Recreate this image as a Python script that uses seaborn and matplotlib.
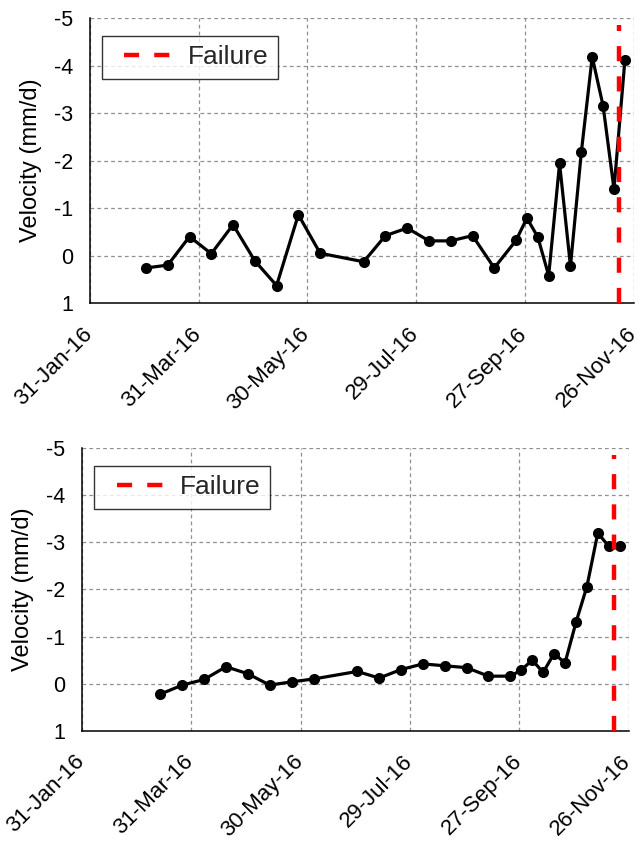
import matplotlib
matplotlib.use("Agg")
import matplotlib.pyplot as plt
import matplotlib.dates as mdates
import matplotlib.transforms as mtransforms
from matplotlib.legend_handler import HandlerLine2D
import numpy as np
import pandas as pd
import seaborn as sns

# ---------------- data ----------------
dates_top = ["2016-03-02", "2016-03-14", "2016-03-26", "2016-04-07", "2016-04-19",
             "2016-05-01", "2016-05-13", "2016-05-25", "2016-06-06", "2016-06-30",
             "2016-07-12", "2016-07-24", "2016-08-05", "2016-08-17", "2016-08-29",
             "2016-09-10", "2016-09-22", "2016-09-28", "2016-10-04", "2016-10-10",
             "2016-10-16", "2016-10-22", "2016-10-28", "2016-11-03", "2016-11-09",
             "2016-11-15", "2016-11-21"]
vel_top = [0.26, 0.20, -0.40, -0.04, -0.65, 0.11, 0.63, -0.86, -0.05, 0.13,
           -0.42, -0.58, -0.31, -0.31, -0.42, 0.26, -0.32, -0.79, -0.39, 0.42,
           -1.94, 0.22, -2.18, -4.18, -3.15, -1.40, -4.11]

dates_bottom = ["2016-03-14", "2016-03-26", "2016-04-07", "2016-04-19",
                "2016-05-01", "2016-05-13", "2016-05-25", "2016-06-06", "2016-06-30",
                "2016-07-12", "2016-07-24", "2016-08-05", "2016-08-17", "2016-08-29",
                "2016-09-10", "2016-09-22", "2016-09-28", "2016-10-04", "2016-10-10",
                "2016-10-16", "2016-10-22", "2016-10-28", "2016-11-03", "2016-11-09",
                "2016-11-15", "2016-11-21"]
vel_bottom = [0.22, 0.03, -0.09, -0.36, -0.21, 0.03, -0.04, -0.10, -0.26,
              -0.12, -0.30, -0.42, -0.38, -0.34, -0.16, -0.16, -0.29, -0.50, -0.24,
              -0.64, -0.44, -1.30, -2.06, -3.20, -2.91, -2.92]

failure_date = "2016-11-18"
failure_top_value = -4.85
x_ticks = ["2016-01-31", "2016-03-31", "2016-05-30", "2016-07-29", "2016-09-27", "2016-11-26"]
y_ticks = [1, 0, -1, -2, -3, -4, -5]
y_label = "Velocity (mm/d)"
legend_label = "Failure"

# ---------------- style ----------------
sns.set_style("white")
plt.rcParams["font.family"] = ["Liberation Sans", "DejaVu Sans"]
plt.rcParams["axes.unicode_minus"] = False

fig = plt.figure(figsize=(6.41, 8.42), dpi=100)
ax_top = fig.add_axes([0.140, 0.640, 0.849, 0.3386])
ax_bot = fig.add_axes([0.128, 0.132, 0.853, 0.336])

panels = [
    (ax_top, dates_top, vel_top),
    (ax_bot, dates_bottom, vel_bottom),
]


def shifted_handle(legline, orig):
    legline.update_from(orig)
    x = np.asarray(legline.get_xdata(), float)
    x0, x1 = x[0], x[-1]
    legline.set_xdata(np.linspace(x0 + (x1 - x0) * 0.22, x1, len(x)))


label_shift = mtransforms.ScaledTranslation(0.03, -0.01, fig.dpi_scale_trans)

xt = pd.to_datetime(x_ticks)
for ax, d, v in panels:
    df = pd.DataFrame({"date": pd.to_datetime(d), "vel": v})
    sns.lineplot(data=df, x="date", y="vel", ax=ax, color="black", linewidth=2.3,
                 marker="o", markersize=8, markeredgecolor="black",
                 markeredgewidth=0, estimator=None, legend=False, zorder=3)
    fd = pd.to_datetime(failure_date)
    ax.plot([fd, fd], [1, failure_top_value], color="#ff0000", lw=3.2,
            ls=(0, (3.4, 3.4)), label=legend_label, zorder=4)

    ax.set_xlim(xt[0], xt[-1])
    ax.set_ylim(1, -5)
    ax.set_xticks(xt)
    ax.xaxis.set_major_formatter(mdates.DateFormatter("%d-%b-%y"))
    ax.set_yticks(y_ticks)
    ax.set_yticklabels([str(t) for t in y_ticks])
    ax.grid(True, color="#909090", lw=0.9, ls=(0, (3, 2.5)))
    ax.set_axisbelow(True)
    for s in ["top", "right"]:
        ax.spines[s].set_visible(False)
    for s in ["left", "bottom"]:
        ax.spines[s].set_color("black")
        ax.spines[s].set_linewidth(1.1)
    ax.tick_params(axis="both", direction="out", length=5, width=1.1,
                   color="black", labelcolor="black")
    ax.tick_params(axis="y", pad=7, labelsize=15.5)
    ax.tick_params(axis="x", pad=17, labelsize=16)
    for tick in ax.xaxis.get_major_ticks():
        lab = tick.label1
        lab.set_rotation(45)
        lab.set_ha("right")
        lab.set_va("baseline")
        lab.set_rotation_mode("anchor")
        lab.set_transform(lab.get_transform() + label_shift)
    ax.set_xlabel("")
    ax.set_ylabel(y_label, fontsize=17, color="black")
    ax.yaxis.set_label_coords(-0.088, 0.5)
    leg = ax.legend(loc="upper left", bbox_to_anchor=(0.022, 0.937),
                    borderaxespad=0, fontsize=19, frameon=True, fancybox=False,
                    handlelength=2.25, handletextpad=0.64, borderpad=0.36,
                    handler_map={matplotlib.lines.Line2D: HandlerLine2D(update_func=shifted_handle)})
    leg.get_frame().set_edgecolor("black")
    leg.get_frame().set_linewidth(1.0)

fig.savefig("out.png", dpi=100)
